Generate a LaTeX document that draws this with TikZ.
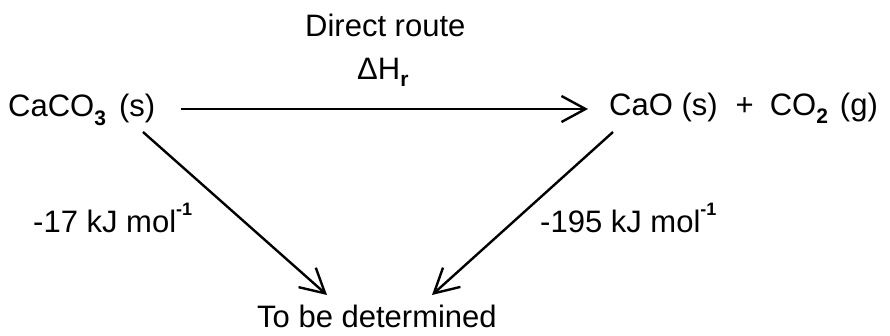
\documentclass[tikz,border=0pt]{standalone}
\usepackage{fontspec}
\setmainfont{Liberation Sans}
\usetikzlibrary{arrows.meta}
\newcommand\mysub[2][-8pt]{\raisebox{#1}{\fontsize{21}{21}\selectfont\bfseries #2}}
\newcommand\mysup[1]{\raisebox{17pt}{\fontsize{18}{18}\selectfont\bfseries #1}}
\begin{document}
\begin{tikzpicture}[x=1pt,y=1pt,
  lbl/.style={inner sep=0pt, anchor=base west, font=\fontsize{31}{36}\selectfont},
  arr/.style={line width=2.4pt, -{Straight Barb[length=24pt,width=26pt,line width=2.4pt]}}]
\useasboundingbox (0,0) rectangle (890,335);
\node[lbl] (caco3) at (8,218) {CaCO\mysub{3}\hspace{13pt}(s)};
\node[lbl] (prod) at (609,219) {CaO (s)\hspace{18pt}+\hspace{16pt}CO\mysub{2}\hspace{12pt}(g)};
\node[lbl] (direct) at (305,298) {Direct route};
\node[lbl] (dh) at (357,255) {ΔH\mysub[-7pt]{r}};
\node[lbl] (l1) at (33,103) {-17 kJ mol\mysup{-1}};
\node[lbl] (l2) at (540,103) {-195 kJ mol\mysup{-1}};
\node[lbl] (tbd) at (257,8) {To be determined};
\coordinate (hA) at (181,226);
\coordinate (hB) at (588,226);
\coordinate (lA) at (143,203);
\coordinate (lB) at (327,40);
\coordinate (rA) at (613,203);
\coordinate (rB) at (432,40);
\draw[arr] (hA) -- (hB);
\draw[arr] (lA) -- (lB);
\draw[arr] (rA) -- (rB);
\end{tikzpicture}
\end{document}
